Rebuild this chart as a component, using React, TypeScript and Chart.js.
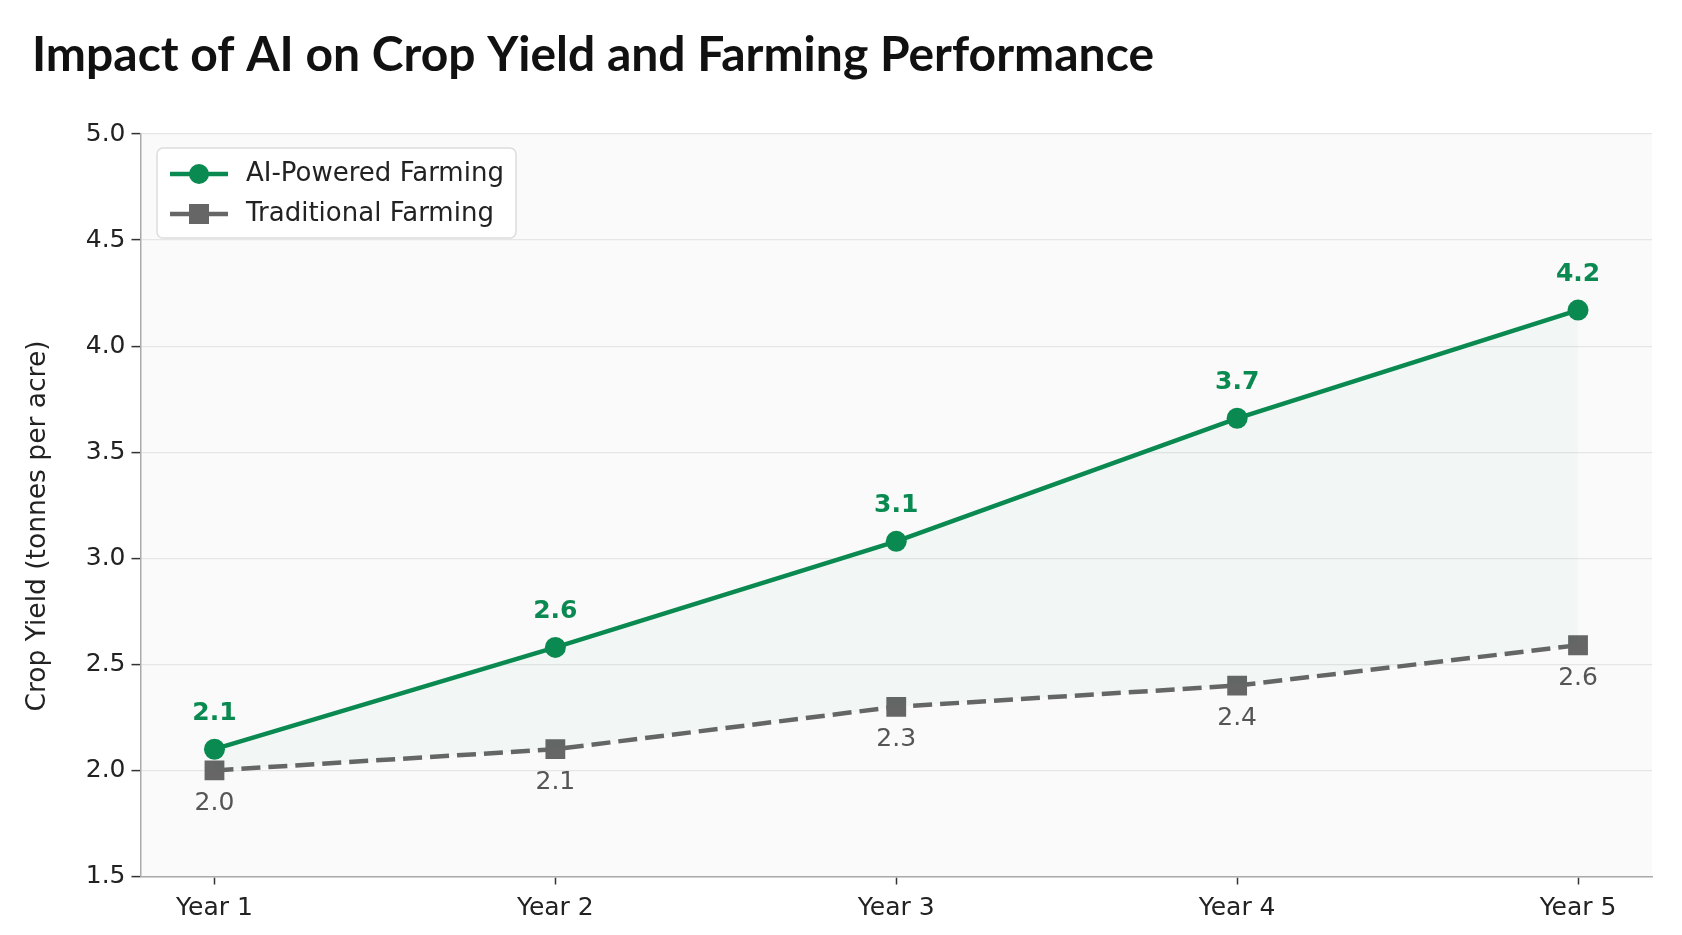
import React, { useEffect, useRef } from "react";
import { Chart, registerables } from "chart.js";

Chart.register(...registerables);

const chartTitle = "Impact of AI on Crop Yield and Farming Performance";
const yAxisTitle = "Crop Yield (tonnes per acre)";
const years = ["Year 1", "Year 2", "Year 3", "Year 4", "Year 5"];
const aiYield = [2.1, 2.58, 3.08, 3.66, 4.17];
const traditionalYield = [2.0, 2.1, 2.3, 2.4, 2.59];
const seriesNames = ["AI-Powered Farming", "Traditional Farming"];
const yTicks = [1.5, 2.0, 2.5, 3.0, 3.5, 4.0, 4.5, 5.0];

const GREEN = "#0a8a50";
const GRAY = "#666666";
const TICK_FONT = "'DejaVu Sans', sans-serif";

export default function App() {
  const canvasRef = useRef<HTMLCanvasElement | null>(null);

  useEffect(() => {
    document.body.style.margin = "0";
    const canvas = canvasRef.current;
    if (!canvas) return;

    const bgPlugin = {
      id: "plotBg",
      beforeDraw(chart: any) {
        const { ctx, chartArea } = chart;
        ctx.save();
        ctx.fillStyle = "#ffffff";
        ctx.fillRect(0, 0, chart.width, chart.height);
        ctx.fillStyle = "#fafafa";
        ctx.fillRect(chartArea.left, chartArea.top, chartArea.right - chartArea.left, chartArea.bottom - chartArea.top);
        ctx.restore();
      },
    };

    const overlayPlugin = {
      id: "overlay",
      afterDatasetsDraw(chart: any) {
        const { ctx, chartArea } = chart;
        ctx.save();
        const m0 = chart.getDatasetMeta(0);
        const m1 = chart.getDatasetMeta(1);
        ctx.textAlign = "center";
        ctx.textBaseline = "middle";
        ctx.font = `bold 25px ${TICK_FONT}`;
        ctx.fillStyle = GREEN;
        m0.data.forEach((pt: any, i: number) => {
          ctx.fillText(aiYield[i].toFixed(1), pt.x, pt.y - 36);
        });
        ctx.font = `25px ${TICK_FONT}`;
        ctx.fillStyle = "#555555";
        m1.data.forEach((pt: any, i: number) => {
          ctx.fillText(traditionalYield[i].toFixed(1), pt.x, pt.y + 33);
        });

        // y axis title
        ctx.save();
        ctx.translate(38.5, 526);
        ctx.rotate(-Math.PI / 2);
        ctx.font = `26.5px ${TICK_FONT}`;
        ctx.fillStyle = "#222222";
        ctx.fillText(yAxisTitle, 0, 0);
        ctx.restore();

        // legend
        const lx = chartArea.left + 16.5;
        const ly = chartArea.top + 14;
        const lw = 359;
        const lh = 90;
        const r = 6;
        ctx.beginPath();
        ctx.moveTo(lx + r, ly);
        ctx.arcTo(lx + lw, ly, lx + lw, ly + lh, r);
        ctx.arcTo(lx + lw, ly + lh, lx, ly + lh, r);
        ctx.arcTo(lx, ly + lh, lx, ly, r);
        ctx.arcTo(lx, ly, lx + lw, ly, r);
        ctx.closePath();
        ctx.fillStyle = "rgba(255,255,255,0.85)";
        ctx.fill();
        ctx.lineWidth = 1.5;
        ctx.strokeStyle = "#dddddd";
        ctx.stroke();

        const rows = [ly + 26, ly + 66];
        const x0 = lx + 13;
        const x1 = lx + 71;
        const xm = (x0 + x1) / 2;
        ctx.beginPath();
        ctx.moveTo(x0, rows[0]);
        ctx.lineTo(x1, rows[0]);
        ctx.strokeStyle = GREEN;
        ctx.lineWidth = 4.5;
        ctx.setLineDash([]);
        ctx.stroke();
        ctx.beginPath();
        ctx.arc(xm, rows[0], 10, 0, Math.PI * 2);
        ctx.fillStyle = GREEN;
        ctx.fill();
        ctx.beginPath();
        ctx.moveTo(x0, rows[1]);
        ctx.lineTo(x1, rows[1]);
        ctx.strokeStyle = GRAY;
        ctx.lineWidth = 4.5;
        ctx.setLineDash([19, 20]);
        ctx.stroke();
        ctx.setLineDash([]);
        ctx.fillStyle = GRAY;
        ctx.fillRect(xm - 10, rows[1] - 10, 20, 20);

        ctx.font = `26px ${TICK_FONT}`;
        ctx.fillStyle = "#222222";
        ctx.textAlign = "left";
        ctx.textBaseline = "middle";
        ctx.fillText(seriesNames[0], lx + 89, rows[0]);
        ctx.fillText(seriesNames[1], lx + 89, rows[1]);
        ctx.restore();
      },
    };

    const chart = new Chart(canvas, {
      type: "line",
      data: {
        datasets: [
          {
            label: seriesNames[0],
            data: aiYield.map((y, i) => ({ x: i, y })),
            borderColor: GREEN,
            backgroundColor: GREEN,
            borderWidth: 4.5,
            pointRadius: 10.5,
            pointStyle: "circle",
            pointBackgroundColor: GREEN,
            pointBorderColor: GREEN,
            pointBorderWidth: 0,
            fill: { target: 1, above: "rgba(10,138,80,0.03)", below: "rgba(10,138,80,0.03)" },
            tension: 0,
          },
          {
            label: seriesNames[1],
            data: traditionalYield.map((y, i) => ({ x: i, y })),
            borderColor: GRAY,
            backgroundColor: GRAY,
            borderWidth: 4.5,
            borderDash: [19, 8],
            pointRadius: 14,
            pointStyle: "rect",
            pointBackgroundColor: GRAY,
            pointBorderColor: GRAY,
            pointBorderWidth: 0,
            fill: false,
            tension: 0,
          },
        ],
      },
      options: {
        responsive: false,
        animation: false,
        devicePixelRatio: 1,
        layout: { padding: { left: 32, right: 30, top: 0, bottom: 0 } },
        plugins: {
          legend: { display: false },
          tooltip: { enabled: false },
          title: {
            display: true,
            text: chartTitle,
            align: "start",
            color: "#111111",
            font: { family: "Lato", weight: "bold", size: 48 },
            padding: { top: 27, bottom: 49.4 },
          },
        },
        scales: {
          x: {
            type: "linear",
            min: -0.217,
            max: 4.217,
            afterBuildTicks: (scale: any) => {
              scale.ticks = years.map((_, i) => ({ value: i }));
            },
            afterFit: (scale: any) => {
              scale.height = 58.5;
            },
            ticks: {
              callback: (v: any) => years[v] ?? "",
              font: { family: "DejaVu Sans", size: 25 },
              color: "#222222",
              padding: 9,
              maxRotation: 0,
            },
            grid: { drawOnChartArea: false, tickLength: 8, tickColor: "#333333", tickWidth: 1.5 },
            border: { color: "#aaaaaa", width: 1.5 },
          },
          y: {
            min: 1.5,
            max: 5,
            afterBuildTicks: (scale: any) => {
              scale.ticks = yTicks.map((v) => ({ value: v }));
            },
            afterFit: (scale: any) => {
              scale.width = 108.5;
            },
            ticks: {
              callback: (v: any) => Number(v).toFixed(1),
              font: { family: "DejaVu Sans", size: 25 },
              color: "#222222",
              padding: 6,
            },
            grid: { color: "#e6e6e6", lineWidth: 1.2, tickLength: 9, tickColor: "#333333", tickWidth: 1.5 },
            border: { color: "#aaaaaa", width: 1.5 },
          },
        },
      },
      plugins: [bgPlugin, overlayPlugin],
    } as any);

    return () => chart.destroy();
  }, []);

  return (
    <div style={{ width: 1682, height: 935, position: "relative", background: "#ffffff" }}>
      <canvas ref={canvasRef} width={1682} height={935} />
    </div>
  );
}
